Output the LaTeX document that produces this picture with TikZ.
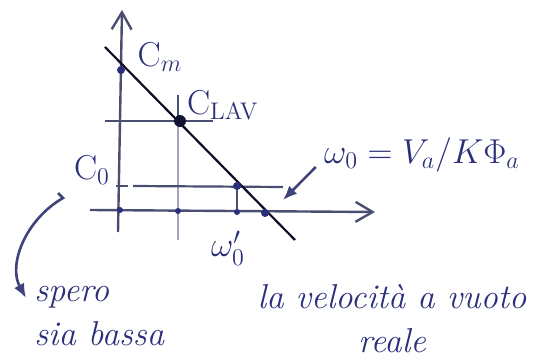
\documentclass[tikz,border=0pt]{standalone}
\usepackage{tikz}
\usepackage{amsmath}
\usetikzlibrary{
  arrows.meta,
  positioning,
  calc
}
\definecolor{inkBlue}{HTML}{2B2F7A}
\definecolor{inkGrey}{HTML}{4A4E70}
\definecolor{inkLight}{HTML}{A4A6B8}
\tikzset{
  axisline/.style={-{Straight Barb[length=3mm, width=3.5mm]}, line width=1.2pt, inkGrey},
  guide/.style={line width=1.1pt, inkGrey},
  faintline/.style={line width=0.8pt, inkLight},
  charline/.style={line width=1.1pt, black!70!inkBlue},
  dot/.style={circle, fill=inkBlue, inner sep=0pt, minimum size=4pt},
  bigdot/.style={dot, minimum size=6pt, fill=black!60!inkBlue},
  ptlabel/.style={font=\LARGE, text=inkBlue, inner sep=1pt},
  note/.style={font=\LARGE\itshape, text=inkBlue, align=center, inner sep=1pt},
  pointer/.style={-{Latex[length=2.5mm, width=2mm]}, line width=1.3pt, inkBlue!75!gray}
}
\begin{document}
\begin{tikzpicture}[x=0.5pt, y=-0.5pt]
  \useasboundingbox (0,0) rectangle (552,358);
  % axes
  \draw[axisline] (118,232) -- (122,10);
  \draw[axisline] (90,210) -- (375,212);
  % working point guides
  \draw[guide] (105,121) -- (213,121);
  \draw[guide] (178,95) -- (178,121);
  \draw[faintline] (178,121) -- (178,240);
  \draw[guide] (116,186) -- (128,186);
  \draw[guide] (133,186) -- (283,187);
  \draw[guide] (237,186) -- (237,212);
  % characteristic
  \draw[charline] (105,47) -- (295,240);
  % points
  \node[dot] (cm) at (121,70) {};
  \node[bigdot] (clav) at (180,121) {};
  \node[dot] (p0) at (237,186) {};
  \node[dot] (w0) at (265,213) {};
  \node[dot, minimum size=3pt] (o1) at (120,210) {};
  \node[dot, minimum size=3pt] (o2) at (178,211) {};
  \node[dot, minimum size=3pt] (o3) at (237,212) {};
  % labels
  \node[ptlabel] (cmlab) at (160,57) {C$_m$};
  \node[ptlabel] (clavlab) at (223,105) {C$_{\mathrm{LAV}}$};
  \node[ptlabel] (c0lab) at (92,170) {C$_0$};
  \node[ptlabel] (w0lab) at (228,248) {$\omega_0'$};
  \node[ptlabel] (w0eq) at (422,155) {$\omega_0 = V_a/K\Phi_a$};
  % notes
  \node[note, anchor=north west, align=left] (noteL) at (32,284) {spero\\sia bassa};
  \node[note, anchor=north] (noteR) at (392,282) {la velocità a vuoto\\reale};
  % pointers
  \coordinate (tipA) at (283,200);
  \draw[pointer] ($(w0eq.west)+(-6,12)$) -- (tipA);
  \draw[pointer] (58,193) -- (63,198) .. controls (25,220) and (8,265) .. ($(noteL.north west)+(-6,14)$);
\end{tikzpicture}
\end{document}
